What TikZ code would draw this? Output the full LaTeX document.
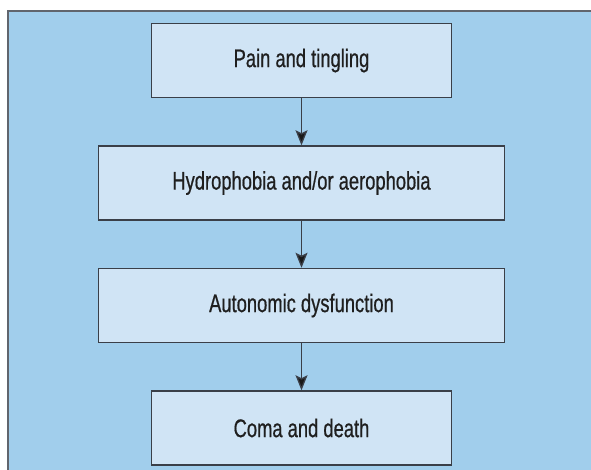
\documentclass[tikz,border=0pt]{standalone}
\usepackage{fontspec}
\setmainfont{Liberation Sans}[FakeStretch=0.72, FakeBold=0.6]
\usetikzlibrary{positioning, arrows.meta}
\definecolor{panelblue}{HTML}{A1CEEC}
\definecolor{boxblue}{HTML}{D0E4F5}
\definecolor{edgegray}{HTML}{3A3F48}

\begin{document}
\begin{tikzpicture}[
  x=1pt, y=-1pt,
  node distance=47pt,
  >={Stealth[length=15pt,width=12pt,inset=3pt,fill=black!90]},
  stage/.style={draw=edgegray, fill=boxblue, line width=1.5pt, minimum height=74pt, font=\fontsize{25.5}{28}\selectfont, text=black!88},
  flow/.style={->, line width=1.3pt, draw=edgegray}
]
  \useasboundingbox (0,0) rectangle (591,469);
  \fill[panelblue] (8,11) rectangle (600,480);
  \draw[edgegray!80, line width=1.5pt] (8,480) -- (8,11) -- (600,11);

  \node[stage, minimum width=300pt, anchor=north] (pain) at (301.5,22.75) {Pain and tingling};
  \node[stage, minimum width=406pt, below=of pain] (hydro) {Hydrophobia and/or aerophobia};
  \node[stage, minimum width=406pt, below=of hydro] (auton) {Autonomic dysfunction};
  \node[stage, minimum width=300pt, below=of auton] (coma) {Coma and death};

  \draw[flow] (pain) -- (hydro);
  \draw[flow] (hydro) -- (auton);
  \draw[flow] (auton) -- (coma);
\end{tikzpicture}
\end{document}
